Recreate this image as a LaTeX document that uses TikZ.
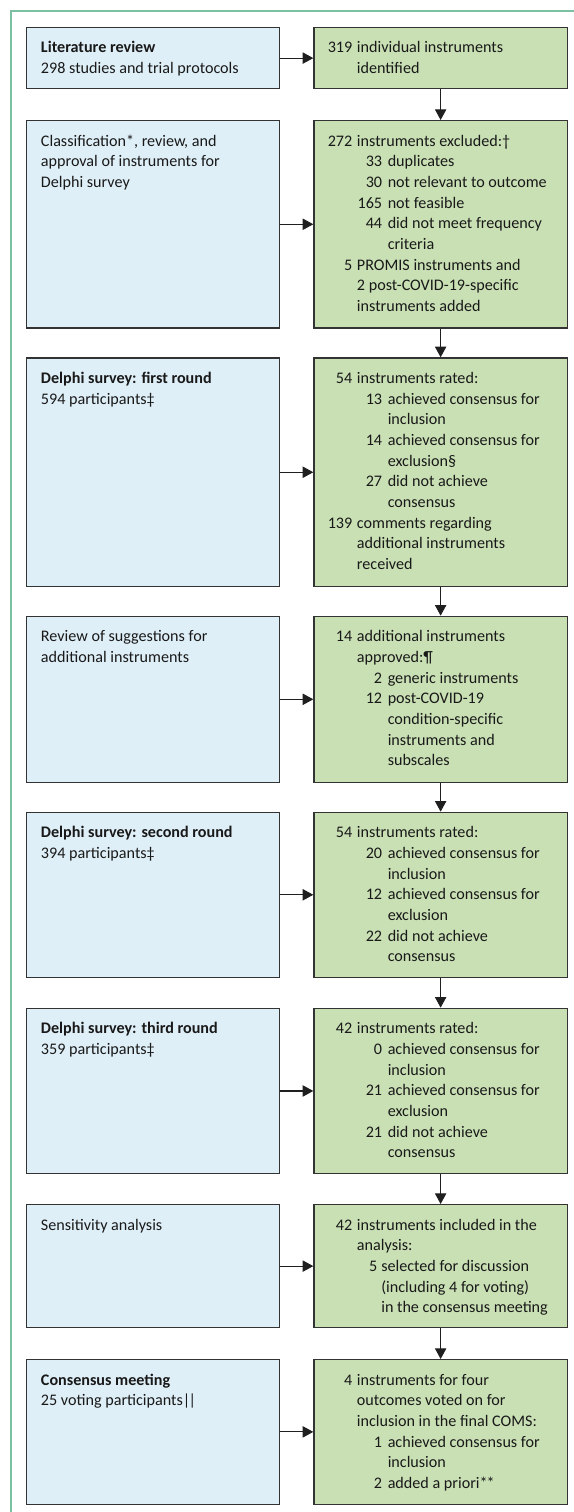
\documentclass[tikz,border=0pt]{standalone}
\usepackage{fontspec}
\setmainfont{Carlito}
\usetikzlibrary{arrows.meta}
\definecolor{lblue}{HTML}{DFEFF7}
\definecolor{lgreen}{HTML}{C9E0B4}
\definecolor{framec}{HTML}{7DBFA2}
\definecolor{edgec}{HTML}{333333}
\newcommand{\Fst}{\rule{0pt}{9.75pt}}
\newcommand{\NumA}[1]{\hspace*{18.25pt}\llap{#1}\hspace*{3.5pt}}
\newcommand{\ContA}{\hspace*{21.75pt}}
\newcommand{\NumB}[1]{\hspace*{40.6pt}\llap{#1}\hspace*{4.25pt}}
\newcommand{\ContB}{\hspace*{44.85pt}}
\newcommand{\NumC}[1]{\hspace*{37pt}\llap{#1}\hspace*{3pt}}
\newcommand{\ContC}{\hspace*{40pt}}
\begin{document}
\begin{tikzpicture}[x=0.75pt,y=-0.75pt,
  lbox/.style={draw=edgec, line width=0.9pt, fill=lblue, anchor=north west, inner sep=0pt, minimum width=190.1pt},
  rbox/.style={lbox, fill=lgreen},
  txt/.style={anchor=north west, inner sep=0pt, align=left, font=\fontsize{12.1pt}{15.5pt}\selectfont, text=black!90},
  arr/.style={draw=black!88, line width=0.8pt, -{Triangle[length=8pt,width=8.5pt]}},
  framel/.style={draw=framec, line width=1.5pt}]
\useasboundingbox (0,0) rectangle (574,1512);
\draw[framel] (574,11) -- (11,11) -- (11,1512);
% row 1
\node[lbox, minimum height=46.2pt] (L1) at (25.7,26.7) {};
\node[rbox, minimum height=46.2pt] (R1) at (313.3,26.7) {};
\node[txt] (tL1) at (40.7,39.7) {\Fst\textbf{Literature review}\\298 studies and trial protocols};
\node[txt] (tR1) at (327.7,39.7) {\Fst\NumA{319}individual instruments\\\ContA identified};
% row 2
\node[lbox, minimum height=155.5pt] (L2) at (25.7,120) {};
\node[rbox, minimum height=155.5pt] (R2) at (313.3,120) {};
\node[txt] (tL2) at (40.7,133) {\Fst Classification*, review, and\\approval of instruments for\\Delphi survey};
\node[txt] (tR2) at (327.7,133) {\Fst\NumA{272}instruments excluded:†\\
\NumB{33}duplicates\\
\NumB{30}not relevant to outcome\\
\NumB{165}not feasible\\
\NumB{44}did not meet frequency\\
\ContB criteria\\
\NumA{5}PROMIS instruments and\\
\ContA 2 post-COVID-19-specific\\
\ContA instruments added};
% row 3
\node[lbox, minimum height=171.5pt] (L3) at (25.7,357.3) {};
\node[rbox, minimum height=171.5pt] (R3) at (313.3,357.3) {};
\node[txt] (tL3) at (40.7,370.3) {\Fst\textbf{Delphi survey: first round}\\594 participants‡};
\node[txt] (tR3) at (327.7,370.3) {\Fst\NumA{54}instruments rated:\\
\NumB{13}achieved consensus for\\
\ContB inclusion\\
\NumB{14}achieved consensus for\\
\ContB exclusion§\\
\NumB{27}did not achieve\\
\ContB consensus\\
\NumA{139}comments regarding\\
\ContA additional instruments\\
\ContA received};
% row 4
\node[lbox, minimum height=124.5pt] (L4) at (25.7,615.7) {};
\node[rbox, minimum height=124.5pt] (R4) at (313.3,615.7) {};
\node[txt] (tL4) at (40.7,628.7) {\Fst Review of suggestions for\\additional instruments};
\node[txt] (tR4) at (327.7,628.7) {\Fst\NumA{14}additional instruments\\
\ContA approved:¶\\
\NumB{2}generic instruments\\
\NumB{12}post-COVID-19\\
\ContB condition-specific\\
\ContB instruments and\\
\ContB subscales};
% row 5
\node[lbox, minimum height=123.75pt] (L5) at (25.7,811.7) {};
\node[rbox, minimum height=123.75pt] (R5) at (313.3,811.7) {};
\node[txt] (tL5) at (40.7,824.7) {\Fst\textbf{Delphi survey: second round}\\394 participants‡};
\node[txt] (tR5) at (327.7,824.7) {\Fst\NumA{54}instruments rated:\\
\NumB{20}achieved consensus for\\
\ContB inclusion\\
\NumB{12}achieved consensus for\\
\ContB exclusion\\
\NumB{22}did not achieve\\
\ContB consensus};
% row 6
\node[lbox, minimum height=124pt] (L6) at (25.7,1007.7) {};
\node[rbox, minimum height=124pt] (R6) at (313.3,1007.7) {};
\node[txt] (tL6) at (40.7,1020.7) {\Fst\textbf{Delphi survey: third round}\\359 participants‡};
\node[txt] (tR6) at (327.7,1020.7) {\Fst\NumA{42}instruments rated:\\
\NumB{0}achieved consensus for\\
\ContB inclusion\\
\NumB{21}achieved consensus for\\
\ContB exclusion\\
\NumB{21}did not achieve\\
\ContB consensus};
% row 7
\node[lbox, minimum height=92.25pt] (L7) at (25.7,1204) {};
\node[rbox, minimum height=92.25pt] (R7) at (313.3,1204) {};
\node[txt] (tL7) at (40.7,1217) {\Fst Sensitivity analysis};
\node[txt] (tR7) at (327.7,1217) {\Fst\NumA{42}instruments included in the\\
\ContA analysis:\\
\NumC{5}selected for discussion\\
\ContC (including 4 for voting)\\
\ContC in the consensus meeting};
% row 8
\node[lbox, minimum height=108.4pt] (L8) at (25.7,1359) {};
\node[rbox, minimum height=108.4pt] (R8) at (313.3,1359) {};
\node[txt] (tL8) at (40.7,1372) {\Fst\textbf{Consensus meeting}\\25 voting participants|\kern-1.3pt|};
\node[txt] (tR8) at (327.7,1372) {\Fst\NumA{4}instruments for four\\
\ContA outcomes voted on for\\
\ContA inclusion in the final COMS:\\
\NumB{1}achieved consensus for\\
\ContB inclusion\\
\NumB{2}added a priori*\kern-0.8pt*};
% connectors
\foreach \i in {1,...,8} {\draw[arr] (L\i.east) -- (R\i.west);}
\foreach \i/\j in {1/2,2/3,3/4,4/5,5/6,6/7,7/8} {\draw[arr] (R\i.south) -- (R\j.north);}
\end{tikzpicture}
\end{document}
